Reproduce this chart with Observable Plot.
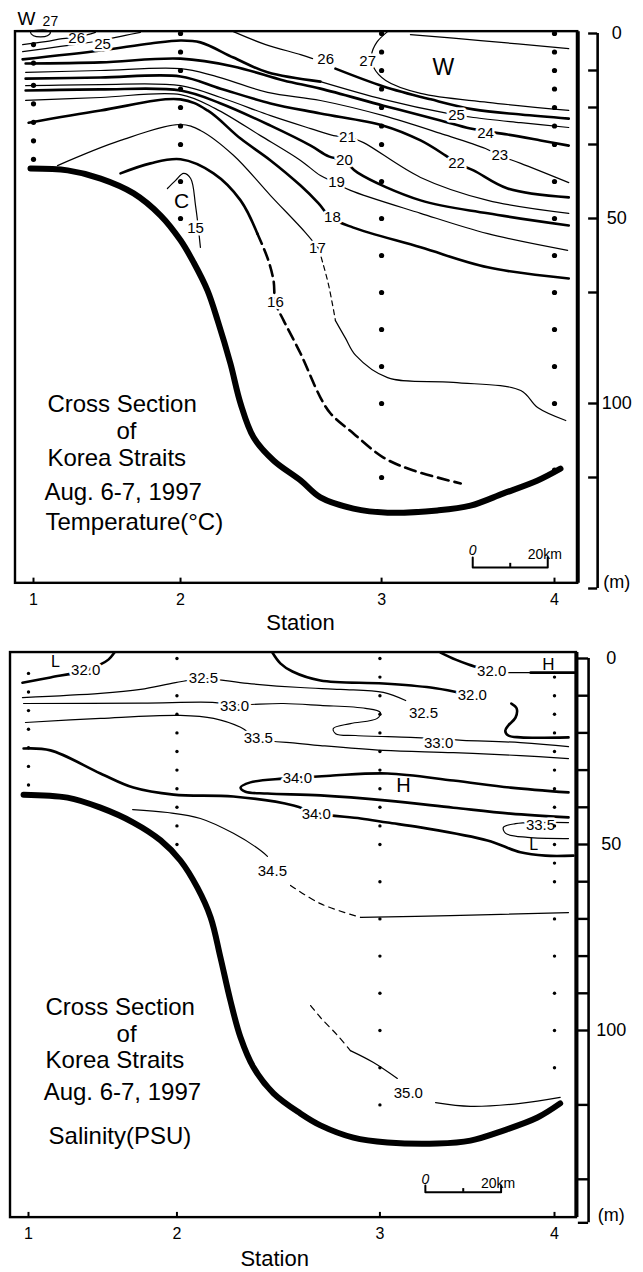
<!DOCTYPE html>
<html><head><meta charset="utf-8">
<script src="https://cdn.jsdelivr.net/npm/d3@7"></script>
<script src="https://cdn.jsdelivr.net/npm/@observablehq/plot@0.6"></script>
<style>
body{margin:0;background:#fff}
#wrap{position:relative;width:643px;height:1272px;background:#fff}
#wrap svg{position:absolute;left:0}
</style></head>
<body><div id="wrap"></div>
<script>
// ---------- shared data ----------
const stations = ["1", "2", "3", "4"];
const stationKm = [0, 39.2, 92.8, 138.9];
const scaleBarKm = [0, 10, 20];

// ---------- temperature panel data (distance km, depth m) ----------
const tempSampleDepths = [
  [3, 8, 14, 19, 24, 29, 34],
  [0, 5, 10, 15, 20, 25, 30, 40, 50],
  [0, 5, 10, 15, 20, 25, 30, 40, 50, 60, 70, 80, 90, 100, 120],
  [0, 5, 10, 15, 20, 25, 30, 40, 50, 60, 70, 80, 90, 100, 118]
];
const tempDepthTicks = [0, 10, 20, 30, 50, 70, 100, 120, 150];
const tempBottom = [[-0.8,36.5],[9.1,37],[17.9,39.2],[26.7,43.2],[33.9,49.2],[39.2,55.9],[42.7,61.9],[46.4,69.5],[49.1,77.6],[52.5,89.2],[55.2,100],[58.7,109.2],[64,115.4],[71.2,120.8],[76.5,125.4],[85.3,128.4],[94.4,129.5],[107.7,128.9],[116.5,127.6],[125.3,124.3],[134.4,120.8],[140.5,117.6]];
const t27Loop = [[-0.8,-0.3],[0,0.6],[1.9,0.9],[3.7,0.6],[4.5,-0.3],[3.2,-0.9],[1.3,-0.9],[-0.5,-0.6]];
const t26Left = [[-2.9,3],[3.2,2.2],[7.7,1.4],[12.5,0.8],[16.5,-0.3]];
const t25Left = [[-2.9,4.9],[7.2,3.5],[17.9,1.9],[24.5,0.5],[28.5,-0.3]];
const t25Arc = [[-2.9,7],[17.9,4.6],[31.2,2.7],[39.2,1.9],[44.5,2.4],[53.3,6.5],[62.4,10.5],[76.5,13]];
const t25Right = [[76.5,13],[93.3,17.8],[110.4,21.6],[117.3,22.7],[129.9,24.1],[142.7,25.4]];
const t26Top = [[53.3,-0.5],[61.9,3],[71.2,5.7],[74.4,6.8]];
const t26Right = [[80.5,9.5],[93.3,14.3],[105.9,17.8],[117.3,20.5],[129.9,21.9],[142.7,23]];
const t27W = [[94.4,-0.5],[91.5,2.4],[90.1,5.9],[90.7,9.2],[93.9,12.7],[103.2,16.2],[121.1,18.6],[142.7,20.8]];
const t28 = [[100.5,0.3],[119.2,1.9],[142.7,4.1]];
const t24 = [[-2.1,8.1],[17.9,7.8],[39.2,6.8],[53.3,8.9],[66.7,12.7],[76.5,14.9],[93.3,19.5],[108.5,23.5],[116.5,25.7],[126.4,27.3],[135.2,28.9],[142.7,30.3]];
const t23 = [[-2.1,10.5],[17.9,10],[39.2,9.5],[48,11.4],[62.4,15.9],[76.5,18.1],[93.3,22.2],[108.5,27],[120.5,31.1],[124.3,33],[129.9,35.1],[142.7,40.3]];
const t22 = [[-2.1,12.2],[17.9,11.9],[39.2,11.6],[49.9,14.9],[63.2,18.9],[76.5,21.6],[93.3,24.9],[103.2,28.9],[109.9,33],[113,35.1],[117.3,37],[126.4,41.9],[142.7,44.3]];
const t21 = [[-2.1,14.1],[17.9,13.8],[39.2,14.1],[49.9,17.3],[63.2,22.2],[73.9,25.7],[80,27.6],[84.5,28.1],[88,29.5],[103.2,38.9],[121.1,45.1],[142.7,48.6]];
const t20 = [[-2.1,15.4],[17.9,15.1],[39.2,15.4],[49.9,18.9],[63.2,24.9],[73.9,30.3],[78.7,33.2],[82.7,34.3],[86.4,37.6],[103.2,45.1],[121.1,48.6],[142.7,51.9]];
const t19 = [[-2.1,18.1],[17.9,17.3],[39.2,16.5],[48.5,20.3],[60.5,27.6],[71.2,34.3],[76.5,38.4],[80.5,40.3],[84.5,42.4],[103.2,48.6],[121.1,54.1],[142.4,58.6]];
const t18 = [[-1.3,24.1],[17.9,20.8],[39.2,17.8],[46.4,20.8],[55.2,28.4],[63.2,34.3],[71.2,41.1],[76,45.9],[79.2,49.7],[85.1,52.4],[103.2,57.8],[121.1,63.2],[142.7,66.2]];
const t17a = [[6.4,35.7],[23.2,28.9],[39.2,24.6],[44.5,26.2],[53.3,32.9],[63.2,43.8],[72.5,53.8],[76,58.1]];
const t17b = [[76,58.1],[77.1,61.9],[78.7,68.1],[80.5,77.6]];
const t17c = [[80.5,77.6],[83.2,82.4],[85.9,87],[94.4,93],[111.9,94.3],[129.9,96.5],[134.4,101.1],[141.9,104.6]];
const t16a = [[23.2,37.8],[31.2,35.1],[39.2,34],[48,37.8],[55.2,45.1],[59.7,54.1]];
const t16b = [[59.7,54.1],[62.5,61],[64,66.8],[64.5,72.7],[66.7,77.6],[71.2,86.5],[76.5,98.4],[79.2,102.7],[85.3,108.1],[93.3,114.6],[101.3,118.1],[113.9,121.6]];
const t15 = [[35.7,41.9],[37.9,39.7],[40,37.8],[41.9,39.2],[43.2,46.5],[44.5,57.8]];
const tempLabels = [
  {t:"26",x:11.5,y:1.4},{t:"25",x:18.4,y:3},{t:"26",x:77.9,y:7},{t:"27",x:89.1,y:7.6},
  {t:"25",x:112.8,y:22.2},{t:"24",x:120.5,y:27},{t:"23",x:124.3,y:33},{t:"22",x:112.8,y:35.1},
  {t:"21",x:83.7,y:28.1},{t:"20",x:82.9,y:34.3},{t:"19",x:80.8,y:40.3},{t:"18",x:79.7,y:49.7},
  {t:"17",x:75.7,y:58.1},{t:"16",x:64.5,y:72.7},{t:"15",x:43.2,y:52.7}
];
const tempMarks = [{t:"W",x:109.3,y:9.2,s:23},{t:"C",x:39.5,y:45.4,s:21},{t:"W",x:-1.9,y:-3.9,s:19},{t:"27",x:4.5,y:-3.2,s:14}];
const tempTitle = ["Cross Section", "of", "Korea Straits", "Aug. 6-7, 1997", "Temperature(°C)"];

// ---------- salinity panel data ----------
const salSampleDepths = [
  [4, 9, 14, 19, 24, 29, 34],
  [0, 10, 15, 20, 25, 30, 35, 40, 45, 50],
  [0, 5, 10, 15, 20, 25, 30, 35, 40, 45, 50, 60, 70, 80, 90, 100, 110, 120],
  [5, 10, 15, 20, 25, 30, 35, 40, 45, 50, 55, 60, 70, 80, 90, 100, 110]
];
const salDepthTicks = [0, 10, 20, 30, 40, 50, 60, 70, 80, 90, 100, 120, 140, 151.7];
const salBottom = [[-1.3,36.6],[10.3,37.4],[19,40.1],[27.7,44.1],[34.9,48.9],[40.1,54.3],[44.6,61.6],[48.1,69.6],[50.7,80.4],[53.3,91.9],[56,101.9],[59.4,109.9],[64.7,116.9],[71.8,122.3],[77.1,125.5],[85.8,128.8],[94.8,130.1],[108,130.4],[116.7,129.6],[125.4,126.9],[134.4,123.4],[140.4,119.6]];
const s320Left = [[-1.6,6.5],[5.8,5.1],[15.1,3.2],[19,1.6],[21.1,0.3],[22.7,-1.6]];
const s320Mid = [[64.4,-1.6],[66.5,1.3],[69.7,3.5],[77.1,5.9],[93.7,6.7],[106.2,7.8],[113.5,9.1],[117.2,9.9]];
const s320RightA = [[108.8,-1.6],[112.8,0.3],[116.2,1.6],[120,2.8]];
const s320RightB = [[125.5,3.8],[132.6,3.8]];
const s320RightC = [[132.6,3.8],[144.2,3.8]];
const s320Hook = [[127.5,12.1],[128.9,13.4],[128.6,15.9],[126.7,18],[125.9,19.4],[126.7,20.7],[129.9,21.2],[142.6,21.2]];
const s325 = [[-1.6,10.5],[19,9.4],[29.6,8.3],[38.8,6.5],[46.2,5.4],[57.8,6.7],[71.8,7.8],[82.4,8.3],[93.7,9.1],[99.6,11.3]];
const s330 = [[-1.3,12.1],[30,12],[48.6,11.8],[54.4,12.4],[67.3,12.1],[77.1,12.6],[89,13.4],[92.9,14.5],[92.1,16.1],[85,17.5],[80.5,18.8],[81.1,20.2],[86.4,20.7],[100.9,21.2],[108.3,21.6],[114.6,22],[129.9,22.6],[142.6,23.7]];
const s335 = [[-0.8,17.2],[19,16.1],[40.1,15.3],[48.9,16.1],[56,18.5],[60.7,21.5],[71,22.8],[77.1,23.4],[93.7,24.7],[112.2,25.3],[129.9,26.1],[142.6,26.9]];
const s340 = [[-1.3,24.2],[5.8,24.7],[19,30.9],[27.7,34.7],[38.3,36.6],[54.1,37.1],[70,39.5],[76,41.6],[87.7,43],[94.8,44.1],[103.5,45.4],[121.2,48.9],[129.9,52.1],[136.5,53],[143.9,53]];
const s340Tongue = [[142.6,36],[127.3,34.7],[112.2,32.8],[94.8,30.9],[79.7,31.5],[71,32],[67.1,32.3],[58.6,33.3],[56,34.7],[57.3,35.8],[63.1,36.3],[77.1,36.8],[94.8,38.2],[112.2,40.1],[127.3,41.7],[142.6,42.7]];
const s335Low = [[142.6,44.1],[135.2,44.1],[128.6,44.4],[125.4,45.4],[126,47],[131.8,48.1],[142.6,48.4]];
const s345a = [[27.5,40.6],[36.7,41.4],[45.4,43],[54.1,47],[61.3,51.6],[63.1,53.2]];
const s345b = [[69.2,61],[77.1,65.9],[87.7,69.6]];
const s345c = [[87.7,69.6],[111.4,69.1],[142.6,68.3]];
const s350a = [[74.5,93.3],[77.1,96.5],[81.6,101.3],[85,105.4]];
const s350b = [[85,105.4],[91.1,108.6],[97.4,112.9]];
const s350c = [[107.5,119.4],[116.7,120.4],[129.9,119.6],[140.4,118]];
const salLabels = [
  {t:"32.0",x:15.1,y:3.2},{t:"32.5",x:46.2,y:5.4},{t:"33.0",x:54.4,y:12.9},{t:"33.5",x:60.7,y:21.5},
  {t:"34.0",x:71,y:32.3},{t:"34.0",x:76,y:41.9},{t:"34.5",x:64.4,y:57.3},{t:"35.0",x:100.3,y:116.9},
  {t:"32.0",x:117.2,y:9.9},{t:"32.0",x:122.3,y:3.5},{t:"32.5",x:104.3,y:14.8},{t:"33.0",x:108.3,y:22.8},
  {t:"33.5",x:135.2,y:44.8}
];
const salMarks = [{t:"L",x:7.1,y:0.8,s:16},{t:"H",x:137.3,y:1.6,s:17},{t:"H",x:99,y:34.1,s:20},{t:"L",x:133.4,y:50.2,s:16}];
const salTitle = ["Cross Section", "of", "Korea Straits", "Aug. 6-7, 1997", "Salinity(PSU)"];

// ---------- styles ----------
const THICK = 2.6, THIN = 1.2, BATHY = 6;
const FONT = "'Liberation Sans', Arial, Helvetica, sans-serif";

function contour(pts, w, dash, curve = "catmull-rom") {
  return Plot.line(pts, {x: d => d[0], y: d => d[1], stroke: "black", strokeWidth: w,
    strokeDasharray: dash, curve, strokeLinecap: "round", strokeLinejoin: "round"});
}
function labelMark(data, size) {
  return Plot.text(data, {x: "x", y: "y", text: "t", fontSize: size, fill: "black",
    stroke: "white", strokeWidth: 5, paintOrder: "stroke"});
}
function samples(depths) {
  return depths.flatMap((arr, i) => arr.map(d => ({x: stationKm[i], depth: d})));
}

function panel(cfg) {
  const L = cfg.layout;
  const titleRows = cfg.title.map((t, i) => ({t, ...L.title[i]}));
  const sb = scaleBarKm.map(k => k + L.scale.x0);
  return Plot.plot({
    width: 643, height: cfg.height,
    x: {domain: [0, 138.9], range: cfg.xRange, axis: null},
    y: {domain: [0, 150], range: cfg.yRange, axis: null},
    style: {fontFamily: FONT, background: "white", overflow: "visible", color: "black"},
    marks: [
      ...cfg.lines,
      contour(cfg.bottom, BATHY, null),
      labelMark(cfg.labels, 15),
      Plot.text(cfg.marks, {x: "x", y: "y", text: "t", fontSize: d => d.s, fill: "black"}),
      Plot.dot(samples(cfg.samples), {x: "x", y: "depth", r: cfg.dotR, fill: "black", stroke: "none"}),
      // frame
      Plot.rect([0], {x1: () => L.frame[0], x2: () => L.frame[1], y1: () => L.frame[2], y2: () => L.frame[3],
        fill: "none", stroke: "black", strokeWidth: 2.4}),
      Plot.ruleX([L.frame[1]], {y1: L.frame[2], y2: L.frame[3], stroke: "black", strokeWidth: 4}),
      // depth axis
      Plot.ruleX([L.axisX], {y1: 0, y2: cfg.depthTicks[cfg.depthTicks.length - 1], stroke: "black", strokeWidth: 2.6}),
      Plot.ruleY(cfg.depthTicks, {x1: () => L.tickX, x2: () => L.axisX, stroke: "black", strokeWidth: 2.4}),
      Plot.text([["0", 0], ["50", 50], ["100", 100], ["(m)", L.mY]], {x: () => L.labelX, y: d => d[1], text: d => d[0], fontSize: 18, fill: "black"}),
      // station axis
      Plot.ruleX(stationKm, {y1: L.frame[3] - 1.4, y2: L.frame[3], stroke: "black", strokeWidth: 2}),
      Plot.text(stations, {x: (d, i) => stationKm[i], y: () => L.stationLabelY, text: d => d, fontSize: 16, fill: "black"}),
      Plot.text(["Station"], {x: () => L.stationTitle[0], y: () => L.stationTitle[1], text: d => d, fontSize: 22, fill: "black"}),
      // title block
      Plot.text(titleRows.filter(d => d.a === "start"), {x: "x", y: "y", text: "t", textAnchor: "start", lineAnchor: "bottom", fontSize: 24, fill: "black"}),
      Plot.text(titleRows.filter(d => d.a === "middle"), {x: "x", y: "y", text: "t", textAnchor: "middle", lineAnchor: "bottom", fontSize: 24, fill: "black"}),
      // scale bar
      Plot.line([[sb[0], L.scale.yTop], [sb[0], L.scale.y], [sb[2], L.scale.y], [sb[2], L.scale.yTop]],
        {x: d => d[0], y: d => d[1], stroke: "black", strokeWidth: 2, curve: "linear"}),
      Plot.ruleX([sb[1]], {y1: L.scale.yMid, y2: L.scale.y, stroke: "black", strokeWidth: 2}),
      Plot.text(["0"], {x: () => sb[0], y: () => L.scale.yText, text: d => d, fontSize: 14, fontStyle: "italic", fill: "black"}),
      Plot.text(["20km"], {x: () => sb[2] - 0.8, y: () => L.scale.yText + 1, text: d => d, fontSize: 14, fill: "black"})
    ]
  });
}

const tempPlot = panel({
  height: 640, xRange: [33, 554], yRange: [33, 588],
  samples: tempSampleDepths, bottom: tempBottom, labels: tempLabels, marks: tempMarks,
  depthTicks: tempDepthTicks, title: tempTitle, dotR: 2.6,
  lines: [
    contour(t27Loop, THIN, null, "catmull-rom-closed"),
    contour(t26Left, THIN), contour(t25Left, THIN),
    contour(t25Arc, THICK), contour(t25Right, THIN),
    contour(t26Top, THIN), contour(t26Right, THICK),
    contour(t27W, THIN), contour(t28, THIN),
    contour(t24, THICK), contour(t23, THIN), contour(t22, THICK), contour(t21, THIN),
    contour(t20, THICK), contour(t19, THIN), contour(t18, THICK),
    contour(t17a, THIN), contour(t17b, THIN, "5,4"), contour(t17c, THIN),
    contour(t16a, THICK), contour(t16b, THICK, "11,6"),
    contour(t15, THIN)
  ],
  layout: {
    frame: [-4.8, 145.1, -0.5, 148.6], axisX: 150.4, tickX: 148, labelX: 155.5, mY: 148.4,
    stationLabelY: 153.2, stationTitle: [71.2, 159.2],
    title: [{x: 3.7, y: 102.2, a: "start"}, {x: 24.8, y: 109.7, a: "middle"}, {x: 3.7, y: 117, a: "start"},
            {x: 2.9, y: 126.2, a: "start"}, {x: 3.2, y: 134.3, a: "start"}],
    scale: {x0: 117.1, y: 144.3, yTop: 141.6, yMid: 143.2, yText: 139.7}
  }
});

const salPlot = panel({
  height: 632, xRange: [28, 554], yRange: [18, 576],
  samples: salSampleDepths, bottom: salBottom, labels: salLabels, marks: salMarks,
  depthTicks: salDepthTicks, title: salTitle, dotR: 1.7,
  lines: [
    contour(s320Left, THICK), contour(s320Mid, THICK), contour(s320RightA, THICK),
    contour(s320RightB, THIN), contour(s320RightC, THICK), contour(s320Hook, THICK),
    contour(s325, THIN), contour(s330, THIN), contour(s335, THIN),
    contour(s340, THICK), contour(s340Tongue, THICK), contour(s335Low, THIN),
    contour(s345a, THIN), contour(s345b, THIN, "6,5"), contour(s345c, THIN),
    contour(s350a, THIN, "6,5"), contour(s350b, THIN), contour(s350c, THIN)
  ],
  layout: {
    frame: [-4.75, 144.7, -1.6, 150.3], axisX: 147.9, tickX: 145.2, labelX: 153.9, mY: 149.7,
    stationLabelY: 154.8, stationTitle: [65, 161.3],
    title: [{x: 4.5, y: 95.7, a: "start"}, {x: 25.9, y: 103, a: "middle"}, {x: 4.5, y: 110.2, a: "start"},
            {x: 4, y: 118.8, a: "start"}, {x: 5.3, y: 130.4, a: "start"}],
    scale: {x0: 104.8, y: 143.5, yTop: 141.7, yMid: 142.5, yText: 140.1}
  }
});

const wrap = document.getElementById("wrap");
tempPlot.style.top = "0px";
salPlot.style.top = "640px";
wrap.appendChild(tempPlot);
wrap.appendChild(salPlot);
</script>
</body></html>
